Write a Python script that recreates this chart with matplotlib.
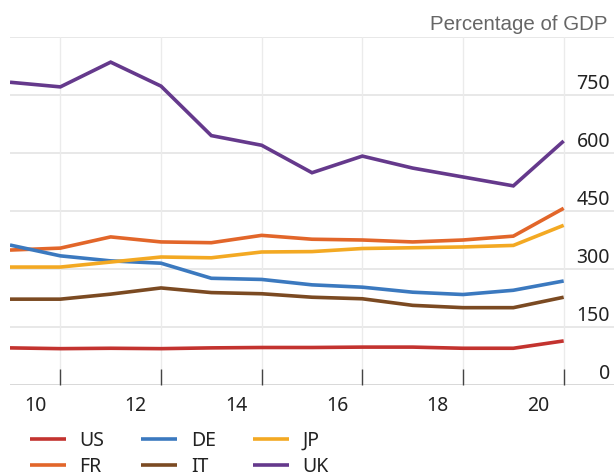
import matplotlib
matplotlib.use("Agg")
import matplotlib.pyplot as plt
import matplotlib.transforms as mtransforms

# ---- data ----
x_index = list(range(12))
us = [96, 94, 95, 94, 96, 97, 97, 98, 98, 95, 95, 114]
fr = [349, 354, 383, 370, 368, 387, 377, 375, 370, 375, 385, 457]
de = [362, 334, 321, 315, 276, 273, 259, 253, 240, 234, 245, 269]
jp = [305, 305, 318, 331, 329, 344, 345, 353, 355, 357, 361, 413]
it = [222, 222, 235, 251, 239, 236, 227, 223, 206, 200, 200, 227]
uk = [783, 771, 835, 773, 645, 620, 549, 592, 561, 538, 515, 631]

series_names = ["US", "FR", "DE", "IT", "JP", "UK"]
series_values = [us, fr, de, it, jp, uk]
series_colors = ["#c3332f", "#e2662a", "#3b79bf", "#7b4a22", "#f3a923", "#65398c"]

xtick_labels = ["10", "12", "14", "16", "18", "20"]
xtick_label_pos = [0.5, 2.5, 4.5, 6.5, 8.5, 10.5]
xtick_mark_pos = [1, 3, 5, 7, 9, 11]
ytick_values = [0, 150, 300, 450, 600, 750]
ygrid_values = [150, 300, 450, 600, 750, 900]

fig = plt.figure(figsize=(6.14, 4.76), dpi=100)
W, H = 614, 476
ax = fig.add_axes([10 / W, (H - 385) / H, 604 / W, 348 / H])
ax.set_xlim(0, 12)
ax.set_ylim(0, 900)

for s in ax.spines.values():
    s.set_visible(False)

grid_c = "#e4e4e4"
for v in ygrid_values:
    ax.axhline(v, color=grid_c, lw=1.2, zorder=0)
ax.axhline(0, color="#d8d8d8", lw=1.4, zorder=0)
for xv in xtick_mark_pos:
    ax.axvline(xv, color="#ebebeb", lw=1.0, zorder=0)

for name, vals, col in zip(series_names, series_values, series_colors):
    ax.plot(x_index, vals, color=col, lw=2.6, label=name, solid_capstyle="butt",
            solid_joinstyle="miter", zorder=3)

# x ticks: marks at boundaries, labels between
ax.set_xticks(xtick_mark_pos)
ax.set_xticklabels([])
ax.tick_params(axis="x", which="major", direction="in", length=11.5, width=1.0,
               color="#444444")
ax.set_xticks(xtick_label_pos, minor=True)
ax.set_xticklabels(xtick_labels, minor=True, fontsize=14, family="Noto Sans",
                   color="#222222")
ax.tick_params(axis="x", which="minor", length=0, pad=8)
ax.set_yticks([])

# y labels inside right
trans = mtransforms.blended_transform_factory(ax.transAxes, ax.transData)
trans = mtransforms.offset_copy(trans, fig=fig, x=-4 / 100, y=6 / 100, units="inches")
for v in ytick_values:
    ax.text(1.0, v, str(v), transform=trans, ha="right", va="baseline",
            fontsize=14, family="Noto Sans", color="#222222")

fig.text(607 / W, 1 - 24 / H, "Percentage of GDP", ha="right", va="center",
         fontsize=14.8, family="Liberation Sans", color="#666666")

leg = fig.legend(loc="upper left", bbox_to_anchor=(30 / W, 1 - 431 / H), ncol=3,
                 frameon=False, handlelength=1.85, handletextpad=0.7,
                 columnspacing=1.9, labelspacing=0.32, borderaxespad=0,
                 borderpad=0, prop={"family": "Noto Sans", "size": 14})
for t in leg.get_texts():
    t.set_color("#222222")

fig.savefig("out.png", dpi=100)
